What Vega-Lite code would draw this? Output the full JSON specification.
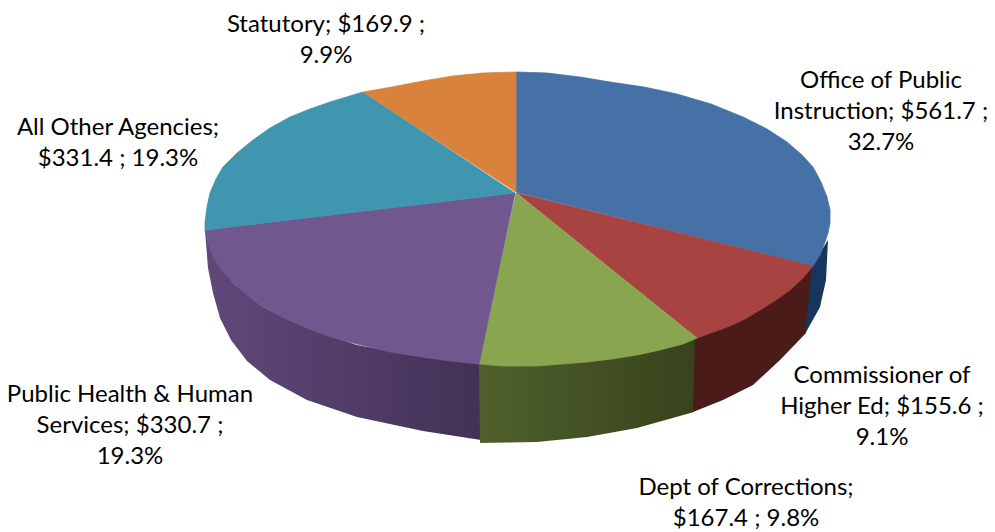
{"$schema":"https://vega.github.io/schema/vega-lite/v6.json","width":995,"height":532,"padding":0,"autosize":{"type":"none"},"background":"white","view":{"stroke":null},
"datasets":{"labels":[
{"t":"Statutory; $169.9 ;\n9.9%","x":326,"y":25},
{"t":"Office of Public\nInstruction; $561.7 ;\n32.7%","x":881,"y":81},
{"t":"All Other Agencies;\n$331.4 ; 19.3%","x":118,"y":128},
{"t":"Public Health & Human\nServices; $330.7 ;\n19.3%","x":130,"y":395},
{"t":"Commissioner of\nHigher Ed; $155.6 ;\n9.1%","x":882,"y":376},
{"t":"Dept of Corrections;\n$167.4 ; 9.8%","x":746,"y":488}],
"outline":[
{"f":"side","s":"Public Health","i":0,"x":205,"y":230},{"f":"side","s":"Public Health","i":1,"x":208,"y":268},{"f":"side","s":"Public Health","i":2,"x":213,"y":293},{"f":"side","s":"Public Health","i":3,"x":220,"y":318},{"f":"side","s":"Public Health","i":4,"x":231,"y":340},{"f":"side","s":"Public Health","i":5,"x":247,"y":361},{"f":"side","s":"Public Health","i":6,"x":270,"y":380},{"f":"side","s":"Public Health","i":7,"x":307,"y":400},{"f":"side","s":"Public Health","i":8,"x":357,"y":417},{"f":"side","s":"Public Health","i":9,"x":423,"y":431},{"f":"side","s":"Public Health","i":10,"x":481,"y":440},{"f":"side","s":"Public Health","i":11,"x":481,"y":364},{"f":"side","s":"Public Health","i":12,"x":423,"y":357},{"f":"side","s":"Public Health","i":13,"x":357,"y":345},{"f":"side","s":"Public Health","i":14,"x":307,"y":328},{"f":"side","s":"Public Health","i":15,"x":263,"y":307},{"f":"side","s":"Public Health","i":16,"x":233,"y":283},
{"f":"side","s":"Corrections","i":0,"x":479,"y":364},{"f":"side","s":"Corrections","i":1,"x":480,"y":443},{"f":"side","s":"Corrections","i":2,"x":537,"y":442},{"f":"side","s":"Corrections","i":3,"x":587,"y":437},{"f":"side","s":"Corrections","i":4,"x":637,"y":428},{"f":"side","s":"Corrections","i":5,"x":694,"y":412},{"f":"side","s":"Corrections","i":6,"x":697,"y":338},
{"f":"side","s":"Commissioner","i":0,"x":695,"y":338},{"f":"side","s":"Commissioner","i":1,"x":693,"y":412},{"f":"side","s":"Commissioner","i":2,"x":723,"y":400},{"f":"side","s":"Commissioner","i":3,"x":753,"y":385},{"f":"side","s":"Commissioner","i":4,"x":780,"y":360},{"f":"side","s":"Commissioner","i":5,"x":806,"y":333},{"f":"side","s":"Commissioner","i":6,"x":814,"y":266},
{"f":"side","s":"Office","i":0,"x":812,"y":266},{"f":"side","s":"Office","i":1,"x":805,"y":334},{"f":"side","s":"Office","i":2,"x":820,"y":307},{"f":"side","s":"Office","i":3,"x":826,"y":280},{"f":"side","s":"Office","i":4,"x":828,"y":240},
{"f":"top","s":"Office","i":0,"x":516,"y":192},{"f":"top","s":"Office","i":1,"x":516,"y":72},{"f":"top","s":"Office","i":2,"x":547,"y":73},{"f":"top","s":"Office","i":3,"x":580,"y":77},{"f":"top","s":"Office","i":4,"x":610,"y":82},{"f":"top","s":"Office","i":5,"x":644,"y":87},{"f":"top","s":"Office","i":6,"x":677,"y":94},{"f":"top","s":"Office","i":7,"x":711,"y":104},{"f":"top","s":"Office","i":8,"x":743,"y":117},{"f":"top","s":"Office","i":9,"x":767,"y":129},{"f":"top","s":"Office","i":10,"x":787,"y":142},{"f":"top","s":"Office","i":11,"x":802,"y":155},{"f":"top","s":"Office","i":12,"x":813,"y":167},{"f":"top","s":"Office","i":13,"x":821,"y":182},{"f":"top","s":"Office","i":14,"x":827,"y":197},{"f":"top","s":"Office","i":15,"x":830,"y":210},{"f":"top","s":"Office","i":16,"x":830,"y":223},{"f":"top","s":"Office","i":17,"x":828,"y":233},{"f":"top","s":"Office","i":18,"x":825,"y":242},{"f":"top","s":"Office","i":19,"x":820,"y":255},{"f":"top","s":"Office","i":20,"x":813,"y":266},{"f":"top","s":"Office","i":21,"x":516,"y":192},
{"f":"top","s":"Commissioner","i":0,"x":517,"y":193},{"f":"top","s":"Commissioner","i":1,"x":813,"y":266},{"f":"top","s":"Commissioner","i":2,"x":803,"y":278},{"f":"top","s":"Commissioner","i":3,"x":790,"y":290},{"f":"top","s":"Commissioner","i":4,"x":776,"y":300},{"f":"top","s":"Commissioner","i":5,"x":760,"y":310},{"f":"top","s":"Commissioner","i":6,"x":745,"y":319},{"f":"top","s":"Commissioner","i":7,"x":730,"y":326},{"f":"top","s":"Commissioner","i":8,"x":697,"y":338},{"f":"top","s":"Commissioner","i":9,"x":517,"y":193},
{"f":"top","s":"Corrections","i":0,"x":516,"y":193},{"f":"top","s":"Corrections","i":1,"x":697,"y":338},{"f":"top","s":"Corrections","i":2,"x":683,"y":344},{"f":"top","s":"Corrections","i":3,"x":660,"y":350},{"f":"top","s":"Corrections","i":4,"x":637,"y":355},{"f":"top","s":"Corrections","i":5,"x":612,"y":359},{"f":"top","s":"Corrections","i":6,"x":587,"y":362},{"f":"top","s":"Corrections","i":7,"x":537,"y":366},{"f":"top","s":"Corrections","i":8,"x":503,"y":366},{"f":"top","s":"Corrections","i":9,"x":479,"y":364},{"f":"top","s":"Corrections","i":10,"x":516,"y":193},
{"f":"top","s":"Public Health","i":0,"x":515,"y":193},{"f":"top","s":"Public Health","i":1,"x":479,"y":364},{"f":"top","s":"Public Health","i":2,"x":450,"y":361},{"f":"top","s":"Public Health","i":3,"x":423,"y":357},{"f":"top","s":"Public Health","i":4,"x":390,"y":352},{"f":"top","s":"Public Health","i":5,"x":357,"y":344},{"f":"top","s":"Public Health","i":6,"x":331,"y":337},{"f":"top","s":"Public Health","i":7,"x":307,"y":328},{"f":"top","s":"Public Health","i":8,"x":284,"y":318},{"f":"top","s":"Public Health","i":9,"x":263,"y":307},{"f":"top","s":"Public Health","i":10,"x":247,"y":295},{"f":"top","s":"Public Health","i":11,"x":233,"y":283},{"f":"top","s":"Public Health","i":12,"x":222,"y":270},{"f":"top","s":"Public Health","i":13,"x":213,"y":257},{"f":"top","s":"Public Health","i":14,"x":208,"y":243},{"f":"top","s":"Public Health","i":15,"x":205,"y":230},{"f":"top","s":"Public Health","i":16,"x":515,"y":193},
{"f":"top","s":"All Other","i":0,"x":515,"y":193},{"f":"top","s":"All Other","i":1,"x":205,"y":230},{"f":"top","s":"All Other","i":2,"x":205,"y":222},{"f":"top","s":"All Other","i":3,"x":207,"y":207},{"f":"top","s":"All Other","i":4,"x":210,"y":193},{"f":"top","s":"All Other","i":5,"x":216,"y":179},{"f":"top","s":"All Other","i":6,"x":223,"y":167},{"f":"top","s":"All Other","i":7,"x":237,"y":153},{"f":"top","s":"All Other","i":8,"x":253,"y":140},{"f":"top","s":"All Other","i":9,"x":270,"y":128},{"f":"top","s":"All Other","i":10,"x":290,"y":117},{"f":"top","s":"All Other","i":11,"x":310,"y":109},{"f":"top","s":"All Other","i":12,"x":330,"y":102},{"f":"top","s":"All Other","i":13,"x":363,"y":92},{"f":"top","s":"All Other","i":14,"x":515,"y":193},
{"f":"top","s":"Statutory","i":0,"x":516,"y":192},{"f":"top","s":"Statutory","i":1,"x":363,"y":92},{"f":"top","s":"Statutory","i":2,"x":392,"y":87},{"f":"top","s":"Statutory","i":3,"x":423,"y":81},{"f":"top","s":"Statutory","i":4,"x":453,"y":76},{"f":"top","s":"Statutory","i":5,"x":483,"y":73},{"f":"top","s":"Statutory","i":6,"x":516,"y":72},{"f":"top","s":"Statutory","i":7,"x":516,"y":192}
]},
"encoding":{"x":{"field":"x","type":"quantitative","scale":{"domain":[0,995],"nice":false,"zero":false},"axis":null},"y":{"field":"y","type":"quantitative","scale":{"domain":[532,0],"nice":false,"zero":false},"axis":null}},
"layer":[
{"data":{"name":"outline"},"transform":[{"filter":"datum.f==='side'&&datum.s==='Public Health'"}],"mark":{"type":"line","filled":true,"strokeWidth":0,"color":{"gradient":"linear","x1":0,"y1":0,"x2":1,"y2":0,"stops":[{"offset":0,"color":"#60497a"},{"offset":1,"color":"#433156"}]}},"encoding":{"order":{"field":"i","type":"quantitative"}}},
{"data":{"name":"outline"},"transform":[{"filter":"datum.f==='side'&&datum.s==='Corrections'"}],"mark":{"type":"line","filled":true,"strokeWidth":0,"color":{"gradient":"linear","x1":0,"y1":0,"x2":1,"y2":0,"stops":[{"offset":0,"color":"#50602c"},{"offset":1,"color":"#37431c"}]}},"encoding":{"order":{"field":"i","type":"quantitative"}}},
{"data":{"name":"outline"},"transform":[{"filter":"datum.f==='side'&&datum.s==='Commissioner'"}],"mark":{"type":"line","filled":true,"strokeWidth":0,"color":"#4a1b18"},"encoding":{"order":{"field":"i","type":"quantitative"}}},
{"data":{"name":"outline"},"transform":[{"filter":"datum.f==='side'&&datum.s==='Office'"}],"mark":{"type":"line","filled":true,"strokeWidth":0,"color":"#17365d"},"encoding":{"order":{"field":"i","type":"quantitative"}}},
{"data":{"name":"outline"},"transform":[{"filter":"datum.f==='top'"}],"mark":{"type":"line","filled":true,"strokeWidth":0.8},"encoding":{"order":{"field":"i","type":"quantitative"},"fill":{"field":"s","type":"nominal","legend":null,"scale":{"domain":["Office","Commissioner","Corrections","Public Health","All Other","Statutory"],"range":["#4571a6","#a74442","#8aa550","#70588e","#4096af","#d8823c"]}},"stroke":{"field":"s","type":"nominal","legend":null,"scale":{"domain":["Office","Commissioner","Corrections","Public Health","All Other","Statutory"],"range":["#4571a6","#a74442","#8aa550","#70588e","#4096af","#d8823c"]}}}},
{"data":{"name":"labels"},"mark":{"type":"text","font":"Lato","fontSize":24,"lineHeight":31,"lineBreak":"\n","align":"center","baseline":"middle","color":"#000000"},"encoding":{"text":{"field":"t","type":"nominal"}}}
]}
